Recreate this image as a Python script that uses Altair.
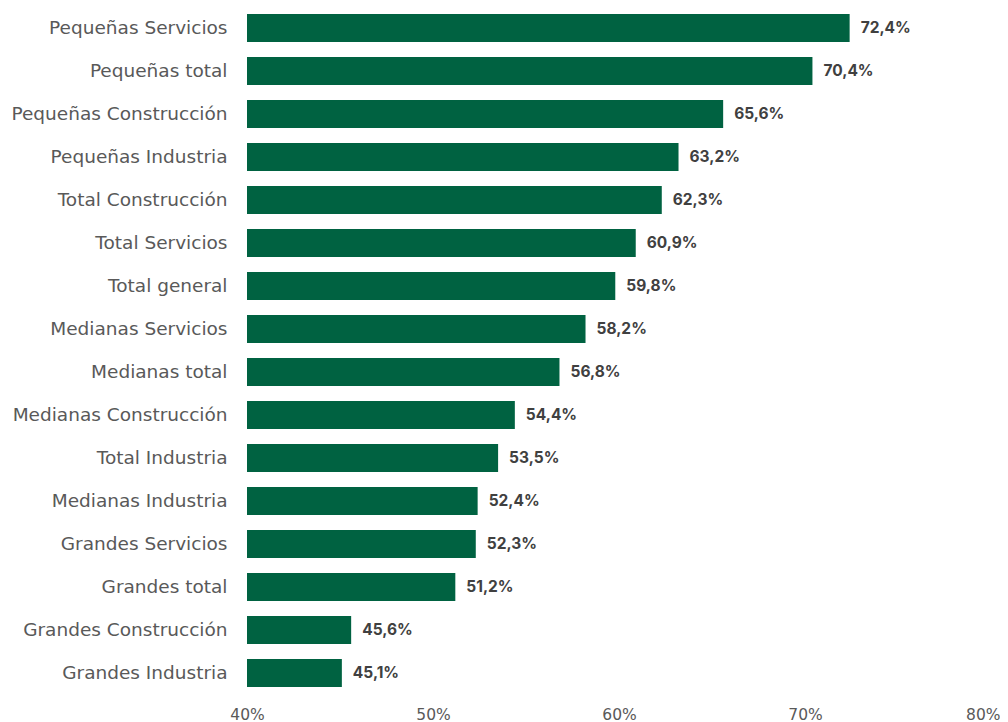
import altair as alt
import pandas as pd

categories = [
    "Pequeñas Servicios", "Pequeñas total", "Pequeñas Construcción", "Pequeñas Industria",
    "Total Construcción", "Total Servicios", "Total general", "Medianas Servicios",
    "Medianas total", "Medianas Construcción", "Total Industria", "Medianas Industria",
    "Grandes Servicios", "Grandes total", "Grandes Construcción", "Grandes Industria",
]
values = [72.4, 70.4, 65.6, 63.2, 62.3, 60.9, 59.8, 58.2, 56.8, 54.4, 53.5, 52.4, 52.3, 51.2, 45.6, 45.1]
labels = [f"{v:.1f}".replace(".", ",") + "%" for v in values]
x_ticks = [40, 50, 60, 70, 80]

df = pd.DataFrame({"cat": categories, "val": values, "lab": labels})

LABEL_FONT = "DejaVu Sans"
VALUE_FONT = "Inter"

x = alt.X("val:Q", scale=alt.Scale(domain=[40, 80], nice=False, zero=False, clamp=True),
          axis=alt.Axis(values=x_ticks, labelExpr="datum.value + '%'", title=None,
                        domain=False, ticks=False, grid=False, labelFont=LABEL_FONT,
                        labelFontSize=15.5, labelColor="#595959", labelPadding=14,
                        labelFlush=False,
                        labelAlign={"condition": {"test": "datum.value == 80", "value": "right"},
                                    "value": "center"},
                        labelOffset={"condition": {"test": "datum.value == 80", "value": 9},
                                     "value": 0}))
y = alt.Y("cat:N", sort=categories,
          scale=alt.Scale(paddingInner=0.349, paddingOuter=0.1395),
          axis=alt.Axis(title=None, domain=False, ticks=False, labelFont=LABEL_FONT,
                        labelFontSize=18.5, labelColor="#595959", labelPadding=20, labelLimit=300))

bars = alt.Chart(df).mark_bar(color="#006241").encode(x=x, y=y)
text = alt.Chart(df).mark_text(align="left", dx=11, font=VALUE_FONT, fontSize=15.5,
                               fontWeight="bold", color="#404040").encode(
    x="val:Q", y=alt.Y("cat:N", sort=categories), text="lab:N")

chart = (bars + text).properties(
    width=744, height=685,
    autosize=alt.AutoSizeParams(type="none"),
    padding={"left": 239, "top": 0, "right": 9, "bottom": 30},
).configure_view(stroke=None)

chart.save("out.html", embed_options={"renderer": "svg", "actions": False})
